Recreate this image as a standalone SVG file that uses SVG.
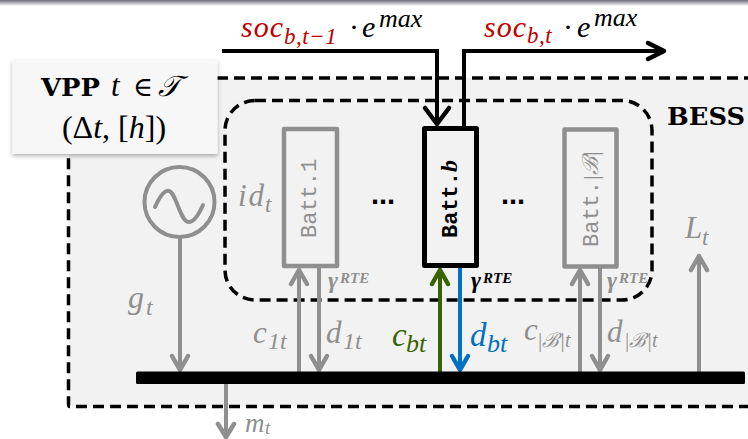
<svg xmlns="http://www.w3.org/2000/svg" width="748" height="439" viewBox="0 0 748 439">
<defs>
<style>
.m{font-family:"Liberation Serif","DejaVu Serif",serif;font-style:italic}
.u{font-family:"Liberation Serif","DejaVu Serif",serif}
.c{font-family:"Liberation Mono","DejaVu Sans Mono",monospace;font-weight:bold}
.cn{font-family:"Liberation Mono","DejaVu Sans Mono",monospace}
.s{font-family:"DejaVu Serif","Liberation Serif",serif;font-weight:bold}
.d{font-family:"Liberation Sans","DejaVu Sans",sans-serif;font-weight:bold;font-size:29px;fill:#000}
.g{fill:#8f8f8f}
.k{fill:#000}
.r{fill:#c00000}
.gm{font-size:24px;font-weight:bold}
.rte{font-size:15px;font-weight:bold}
.dash{fill:none;stroke:#000;stroke-width:3.5;stroke-dasharray:11 6}
.wire{fill:none;stroke-width:4}
.head{fill:none;stroke-width:4.5;stroke-linecap:round;stroke-linejoin:round}
.gs{stroke:#8f8f8f}
.ks{stroke:#000}
.box{fill:none;stroke-linejoin:round}
</style>
<filter id="sh" x="-10%" y="-10%" width="120%" height="125%"><feDropShadow dx="0" dy="2" stdDeviation="2" flood-color="#000" flood-opacity="0.3"/></filter>
<linearGradient id="top" x1="0" y1="0" x2="0" y2="1"><stop offset="0" stop-color="#6f6a80"/><stop offset="1" stop-color="#fff"/></linearGradient>
</defs>
<rect width="748" height="439" fill="#fff"/>
<rect width="748" height="6" fill="url(#top)"/>
<g id="vpp-area">
<path d="M68.500 78H750V406.500H68.500Z" fill="#f2f2f2"/>
<path d="M217 78H750M750 406.500H70Q68.500 406.500 68.500 404V154" class="dash"/>
</g>
<g id="bess">
<rect x="225" y="100.500" width="427" height="199.500" rx="30" class="dash"/>
<text x="667" y="125" class="s k" font-size="24" textLength="78" lengthAdjust="spacingAndGlyphs">BESS</text>
</g>
<g id="vpp-label">
<rect x="12.500" y="60" width="205" height="94" fill="#f7f7f7" filter="url(#sh)"/>
<text x="41" y="96" class="s k" font-size="24" textLength="59" lengthAdjust="spacingAndGlyphs">VPP</text>
<text x="111" y="96" class="m k" font-size="31">t</text>
<text x="133" y="96" class="u k" font-size="27">∈</text>
<text x="158" y="96" class="m k" font-size="29">𝒯</text>
<text x="114" y="138" text-anchor="middle" class="u k" font-size="32">(Δ<tspan class="m">t</tspan>, [<tspan class="m">h</tspan>])</text>
</g>
<g id="connectors">
<path d="M222 51H437V122" class="wire ks"/>
<path d="M425 108L437 124L449 108" class="head ks"/>
<path d="M464 127V51H660" class="wire ks"/>
<path d="M648 43L664 51L648 59" class="head ks"/>
<path d="M180 236V370" class="wire gs"/>
<path d="M172 356L180 370L188 356" class="head gs"/>
<path d="M226 384V435" class="wire gs"/>
<path d="M218 424L226 437L234 424" class="head gs"/>
<path d="M299 373V271" class="wire gs"/>
<path d="M291 284L299 270L307 284" class="head gs"/>
<path d="M319 268V370" class="wire gs"/>
<path d="M311 356L319 370L327 356" class="head gs"/>
<path d="M440 373V271" class="wire" stroke="#376400"/>
<path d="M432 284L440 270L448 284" class="head" stroke="#376400"/>
<path d="M460 268V370" class="wire" stroke="#0070c0"/>
<path d="M452 356L460 370L468 356" class="head" stroke="#0070c0"/>
<path d="M580 373V271" class="wire gs"/>
<path d="M572 284L580 270L588 284" class="head gs"/>
<path d="M600 268V370" class="wire gs"/>
<path d="M592 356L600 370L608 356" class="head gs"/>
<path d="M699 373V256" class="wire gs"/>
<path d="M691 270L699 256L707 270" class="head gs"/>
</g>
<g id="bus"><rect x="136" y="371.500" width="609" height="12.500" rx="1.500" fill="#000"/></g>
<g id="generator">
<circle cx="179.500" cy="202" r="35" fill="none" stroke="#8f8f8f" stroke-width="4"/>
<path d="M155 207C161 194 165 190 169 191C176 192 180 222 189 222C194 222 199 214 203 205" fill="none" stroke="#8f8f8f" stroke-width="4" stroke-linecap="round"/>
</g>
<g id="batt-1">
<rect x="284" y="129" width="53" height="137" class="box" stroke="#8f8f8f" stroke-width="4.500"/>
<text transform="translate(316 238) rotate(-90)" class="cn g" font-size="22">Batt.1</text>
</g>
<g id="batt-b">
<rect x="424.500" y="128.500" width="52" height="137" fill="#f2f2f2" class="box" stroke="#000" stroke-width="5"/>
<text transform="translate(457 238) rotate(-90)" class="c k" font-size="22">Batt.<tspan class="m" font-size="24">b</tspan></text>
</g>
<g id="batt-B">
<rect x="564.500" y="129.500" width="52" height="137" class="box" stroke="#8f8f8f" stroke-width="4.500"/>
<text transform="translate(598 247) rotate(-90)" class="cn g" font-size="22">Batt.<tspan class="m" font-size="22">|ℬ|</tspan></text>
</g>
<g id="labels">
<text x="371" y="204" class="d">...</text>
<text x="501" y="204" class="d">...</text>
<text class="m g" font-size="31"><tspan x="238" y="206" letter-spacing="2">id</tspan><tspan x="265" y="212" font-size="23">t</tspan></text>
<text class="m g" font-size="32"><tspan x="128" y="308">g</tspan><tspan x="146" y="315" font-size="24">t</tspan></text>
<text class="m g" font-size="31"><tspan x="253" y="343">c</tspan><tspan x="268" y="349" font-size="24">1t</tspan></text>
<text class="m g" font-size="31"><tspan x="326" y="343">d</tspan><tspan x="343" y="349" font-size="24">1t</tspan></text>
<text class="m" fill="#376400" font-size="33"><tspan x="392" y="346">c</tspan><tspan x="406" y="352" font-size="26">bt</tspan></text>
<text class="m" fill="#0070c0" font-size="33"><tspan x="470" y="346">d</tspan><tspan x="487" y="352" font-size="26">bt</tspan></text>
<text class="m g" font-size="31"><tspan x="524" y="340">c</tspan><tspan x="537" y="347" font-size="20">|ℬ|t</tspan></text>
<text class="m g" font-size="31"><tspan x="607" y="342">d</tspan><tspan x="624" y="347" font-size="20">|ℬ|t</tspan></text>
<text class="m g" font-size="31"><tspan x="685" y="238">L</tspan><tspan x="702" y="245" font-size="23">t</tspan></text>
<text class="m g" font-size="27"><tspan x="245" y="432">m</tspan><tspan x="265" y="434" font-size="19">t</tspan></text>
<text class="m g"><tspan x="328" y="288" class="gm">γ</tspan><tspan x="340" y="283" class="rte">RTE</tspan></text>
<text class="m k"><tspan x="471" y="288" class="gm">γ</tspan><tspan x="483" y="283" class="rte">RTE</tspan></text>
<text class="m g"><tspan x="607" y="288" class="gm">γ</tspan><tspan x="619" y="283" class="rte">RTE</tspan></text>
<text class="m r" font-size="30"><tspan x="241" y="37" letter-spacing="1">soc</tspan><tspan x="284" y="44" font-size="23" letter-spacing="0.500">b,t−1</tspan><tspan x="349" y="37" class="k" font-style="normal">·</tspan><tspan x="362" y="37" class="k">e</tspan><tspan x="379" y="27" class="k" font-size="26">max</tspan></text>
<text class="m r" font-size="30"><tspan x="484" y="37" letter-spacing="1">soc</tspan><tspan x="527" y="43" font-size="23" letter-spacing="0.500">b,t</tspan><tspan x="563" y="37" class="k" font-style="normal">·</tspan><tspan x="577" y="37" class="k">e</tspan><tspan x="594" y="26" class="k" font-size="26">max</tspan></text>
</g>
</svg>
